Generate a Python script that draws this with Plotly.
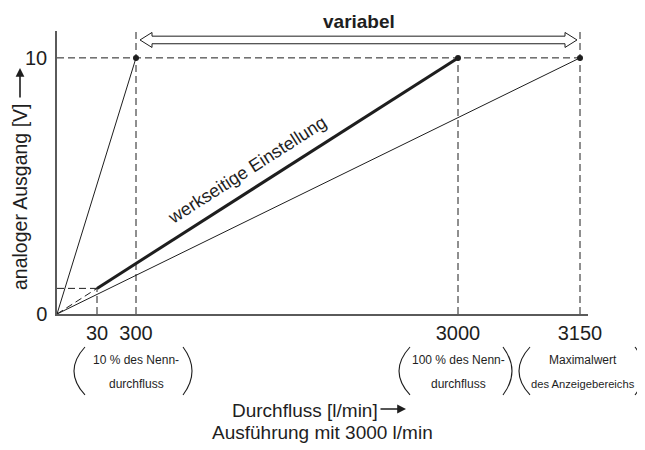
import numpy as np
import plotly.graph_objects as go

# ── data ──────────────────────────────────────────────
# flow values [l/min] shown on the (not to scale) x axis and where they sit
FLOW_TICKS = [0, 30, 300, 3000, 3150]
TICK_POS = [0, 40, 79, 401, 523]          # schematic axis positions
TICK_TEXT = ["30", "300", "3000", "3150"]

V_MAX = 10
V_LOW = 1

steep_flow, steep_volt = [0, 300], [0, V_MAX]          # smallest range
factory_flow, factory_volt = [30, 3000], [V_LOW, V_MAX]  # werkseitige Einstellung
max_flow, max_volt = [0, 3150], [0, V_MAX]             # largest range
low_flow, low_volt = [0, 30], [0, V_LOW]               # below 10 %
end_flow, end_volt = [300, 3000, 3150], [V_MAX, V_MAX, V_MAX]

NOTES = [
    ("10 % des Nenn-", "durchfluss"),
    ("100 % des Nenn-", "durchfluss"),
    ("Maximalwert", "des Anzeigebereichs"),
]

# ── layout geometry (page pixels; the page body adds an 8px margin) ──
OFF = 8
W, H = 645 - OFF, 450 - OFF
PLOT_X0, PLOT_X1, PLOT_Y0, PLOT_Y1 = 57, 588, 31, 314   # page px
L, R = PLOT_X0 - OFF, 645 - PLOT_X1
T, B = PLOT_Y0 - OFF, 450 - PLOT_Y1
Y_TOP = 11.05
PW, PH = PLOT_X1 - PLOT_X0, PLOT_Y1 - PLOT_Y0

INK = "#1e1e1e"
AXIS = "#5a5a5a"
FONT = "Liberation Sans, Arial, Helvetica, sans-serif"


def xs(flow):
    return np.interp(flow, FLOW_TICKS, TICK_POS)


def pxx(px):
    return (px - PLOT_X0) / PW


def pxy(py):
    return (PLOT_Y1 - py) / PH


def ypx(n):  # n pixels in y data units
    return n * Y_TOP / PH


fig = go.Figure()


def line(fx, vy, width=1.0, dash=None):
    fig.add_trace(go.Scatter(
        x=xs(fx), y=vy, mode="lines", hoverinfo="skip", showlegend=False,
        line=dict(color=INK, width=width, dash=dash),
    ))


DASH = "7px,4px"
# guide lines
line([0, 3150], [V_MAX, V_MAX], 1, DASH)
line([0, 30], [V_LOW, V_LOW], 1, DASH)
line([30, 30], [0, V_LOW], 1, DASH)
line([300, 300], [0, Y_TOP], 1, DASH)
line([3000, 3000], [0, V_MAX], 1, DASH)
line([3150, 3150], [0, Y_TOP], 1, DASH)

# characteristic lines
line(low_flow, low_volt, 1, DASH)
line(steep_flow, steep_volt, 1)
line(max_flow, max_volt, 1)
line(factory_flow, factory_volt, 3)

fig.add_trace(go.Scatter(
    x=xs(end_flow), y=end_volt, mode="markers", hoverinfo="skip", showlegend=False,
    marker=dict(color=INK, size=6),
))

# hollow double arrow "variabel"
x0, x1 = float(xs(300)) + 4, float(xs(3150)) - 3
yc = 10.7
hl, hh, sh = 12, ypx(7.5), ypx(3.8)
pts = [(x0, yc), (x0 + hl, yc + hh), (x0 + hl, yc + sh), (x1 - hl, yc + sh),
       (x1 - hl, yc + hh), (x1, yc), (x1 - hl, yc - hh), (x1 - hl, yc - sh),
       (x0 + hl, yc - sh), (x0 + hl, yc - hh)]
path = "M " + " L ".join(f"{a:.2f},{b:.4f}" for a, b in pts) + " Z"
fig.add_shape(type="path", path=path, xref="x", yref="y",
              line=dict(color=INK, width=1), fillcolor="white")

ann = []


def text(px, py, s, size=19, angle=0, family=FONT, bold=False):
    ann.append(dict(
        x=pxx(px), y=pxy(py), xref="paper", yref="paper", showarrow=False,
        text=f"<b>{s}</b>" if bold else s, textangle=angle,
        xanchor="center", yanchor="middle",
        font=dict(family=family, size=size, color=INK),
    ))


def arrow(px0, py0, px1, py1):
    ann.append(dict(
        x=pxx(px1), y=pxy(py1), ax=px0 - px1, ay=py0 - py1,
        xref="paper", yref="paper", axref="pixel", ayref="pixel",
        showarrow=True, arrowhead=2, arrowsize=1.1, arrowwidth=1.6,
        arrowcolor=INK, text="",
    ))


text(359, 22, "variabel", 19, bold=True)
text(247, 170, "werkseitige Einstellung", 18, angle=-32.5)
text(20, 197, "analoger Ausgang [V]", 19.5, angle=-90)
arrow(20, 99, 20, 68)
text(305, 410, "Durchfluss [l/min]", 19)
arrow(379, 409, 406, 409)
text(322, 432, "Ausführung mit 3000 l/min", 19)

# notes under the ticks, with big round brackets
note_px = [136, 458, 583]
brackets = [(85, 183), (410, 503), (530, 635)]
for (l1, l2), cx, (bl, br) in zip(NOTES, note_px, brackets):
    text(cx, 360, l1, 12)
    text(cx, 384, l2, 12 if len(l2) < 16 else 11.2)
    for bx, bulge in ((bl, -11), (br, 9)):
        p = (f"M {pxx(bx):.4f},{pxy(347):.4f} Q {pxx(bx + 2 * bulge):.4f},{pxy(371):.4f} "
             f"{pxx(bx):.4f},{pxy(395):.4f}")
        fig.add_shape(type="path", path=p, xref="paper", yref="paper",
                      line=dict(color=INK, width=1.1))

fig.update_layout(
    width=W, height=H, margin=dict(l=L, r=R, t=T, b=B),
    paper_bgcolor="white", plot_bgcolor="white",
    font=dict(family=FONT, size=20, color=INK),
    annotations=ann, showlegend=False,
)
fig.update_xaxes(
    range=[0, PW], showgrid=False, zeroline=False, showline=True,
    linecolor=AXIS, linewidth=1.5, ticks="",
    tickvals=xs(FLOW_TICKS[1:]), ticktext=TICK_TEXT, tickfont=dict(size=20),
)
fig.update_yaxes(
    range=[0, Y_TOP], showgrid=False, zeroline=False, showline=True,
    linecolor=AXIS, linewidth=1.5, ticks="",
    tickvals=[0, V_MAX], ticktext=["0", "10"], tickfont=dict(size=20),
    ticklabelstandoff=4,
)

fig.write_html("out.html")
